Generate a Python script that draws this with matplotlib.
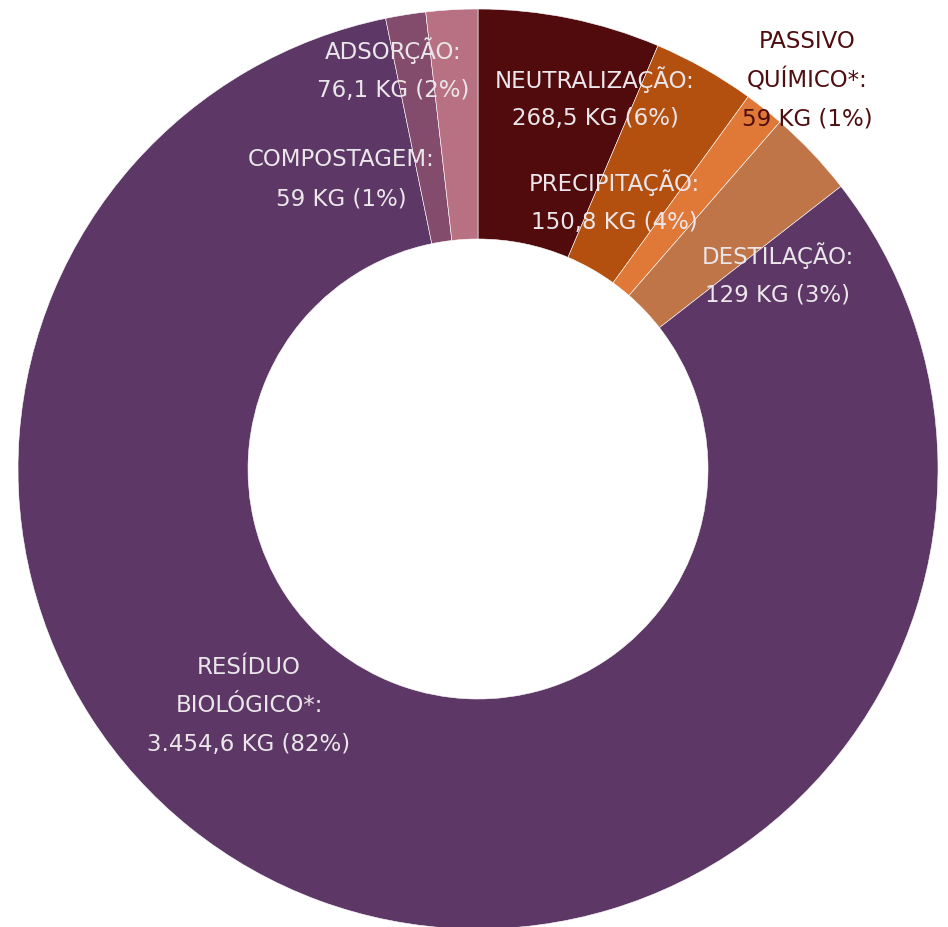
import matplotlib
matplotlib.use("Agg")
import matplotlib.pyplot as plt

# dados (kg)
categorias = ["NEUTRALIZAÇÃO", "PRECIPITAÇÃO", "PASSIVO QUÍMICO*", "DESTILAÇÃO",
              "RESÍDUO BIOLÓGICO*", "COMPOSTAGEM", "ADSORÇÃO"]
valores = [268.5, 150.8, 59.0, 129.0, 3454.6, 59.0, 76.1]
rotulos_valor = ["268,5 KG", "150,8 KG", "59 KG", "129 KG", "3.454,6 KG", "59 KG", "76,1 KG"]
percentuais = [6, 4, 1, 3, 82, 1, 2]
cores = ["#510b0d", "#b4500f", "#e07838", "#c07548", "#5d3766", "#834c6d", "#b87183"]

# linhas de cada rótulo e posição (pixels da figura)
linhas_nome = [["NEUTRALIZAÇÃO:"], ["PRECIPITAÇÃO:"], ["PASSIVO", "QUÍMICO*:"], ["DESTILAÇÃO:"],
               ["RESÍDUO", "BIOLÓGICO*:"], ["COMPOSTAGEM:"], ["ADSORÇÃO:"]]
pos_rotulo = [(595, 80), (614, 183), (807, 41), (778, 256), (249, 667), (341, 160), (393, 51)]
cor_texto = ["#ebe6ea", "#ebe6ea", "#4f0d10", "#ebe6ea", "#ebe6ea", "#ebe6ea", "#ebe6ea"]

W, H = 948, 928
cx, cy, R = 478, 470, 460

fig = plt.figure(figsize=(W / 100, H / 100), dpi=100)
ax = fig.add_axes([0, 0, 1, 1])
ax.axis("off")

ax.pie(valores, colors=cores, startangle=90, counterclock=False, radius=1.0,
       wedgeprops=dict(width=0.5, edgecolor="#ffffff", linewidth=0.4))
ax.set_xlim(-cx / R, (W - cx) / R)
ax.set_ylim(-(H - cy) / R, cy / R)


def px(x, y):
    return (x - cx) / R, (cy - y) / R


for nome, val, pct, (x0, y0), cor in zip(linhas_nome, rotulos_valor, percentuais, pos_rotulo, cor_texto):
    linhas = nome + [f"{val} ({pct}%)"]
    for i, txt in enumerate(linhas):
        x, y = px(x0, y0 + 39 * i)
        ax.text(x, y, txt, ha="center", va="center", color=cor, fontsize=16.5,
                family=["DejaVu Sans"])

fig.savefig("out.png", dpi=100)
